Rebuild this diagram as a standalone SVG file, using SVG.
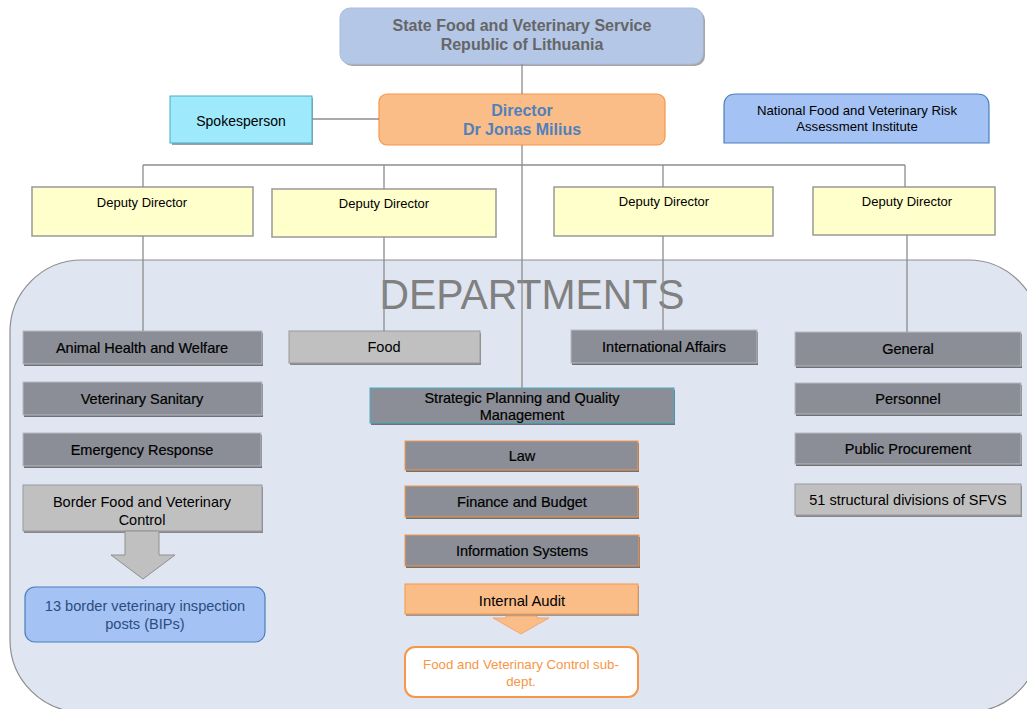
<svg xmlns="http://www.w3.org/2000/svg" width="1027" height="709" viewBox="0 0 1027 709">
<defs>
<style>
text{font-family:"Liberation Sans",Arial,sans-serif;text-anchor:middle}
.dept rect.b{fill:#8b8e96;stroke:#b8bbc0;stroke-width:1}
.dept rect.s{fill:#6f7176}
.dept text{font-size:14.5px;fill:#000;stroke:#000;stroke-width:0.2}
.light rect.b{fill:#c0c0c0;stroke:#9a9a9a;stroke-width:1}
.light rect.s{fill:#8a8a8a}
.light text{font-size:14.5px;fill:#000}
.dep rect{fill:#ffffcc;stroke:#999999;stroke-width:1.5}
.dep text{font-size:13px;fill:#000}
.conn line{stroke:#8c8c8c;stroke-width:1.3}
</style>
</defs>
<rect width="1027" height="709" fill="#ffffff"/>
<g id="departments-area">
<rect x="10" y="260" width="1030" height="452" rx="72" ry="72" fill="#dfe5f1" stroke="#8e8e8e" stroke-width="1.2"/>
<text x="532" y="309" font-size="43" fill="#808080" textLength="305" lengthAdjust="spacingAndGlyphs">DEPARTMENTS</text>
</g>
<g id="n-sfvs">
<rect x="342" y="10" width="363" height="56" rx="10" fill="#a6a6a6"/>
<rect x="340" y="8" width="363" height="56" rx="10" fill="#b4c7e7" stroke="#a9bde0" stroke-width="1"/>
<text x="522" y="31" font-size="16" font-weight="bold" fill="#666666">State Food and Veterinary Service</text>
<text x="522" y="50" font-size="16" font-weight="bold" fill="#666666">Republic of Lithuania</text>
</g>
<g id="n-spokesperson">
<rect x="172" y="98" width="141" height="47" fill="#a0a0a0"/>
<rect x="170" y="96" width="142" height="47" fill="#9eeafc" stroke="#4bacc6" stroke-width="1"/>
<text x="241" y="126" font-size="14" fill="#000">Spokesperson</text>
</g>
<g id="n-director">
<rect x="379" y="94" width="286" height="51" rx="8" fill="#fbbd88" stroke="#f79646" stroke-width="1.2"/>
<text x="522" y="116" font-size="16" font-weight="bold" fill="#4f81bd">Director</text>
<text x="522" y="135" font-size="16" font-weight="bold" fill="#4f81bd">Dr Jonas Milius</text>
</g>
<g id="n-institute">
<path d="M724,143 L724,106 Q724,94 736,94 L977,94 Q989,94 989,106 L989,143 Z" fill="#a4c2f4" stroke="#4a7ebb" stroke-width="1.2"/>
<text x="857" y="115" font-size="13.2" fill="#000">National Food and Veterinary Risk</text>
<text x="857" y="131" font-size="13.2" fill="#000">Assessment Institute</text>
</g>
<g id="n-dep1" class="dep"><rect x="32" y="187" width="221" height="49"/><text x="142" y="207">Deputy Director</text></g>
<g id="n-dep2" class="dep"><rect x="272" y="189" width="224" height="48"/><text x="384" y="208">Deputy Director</text></g>
<g id="n-dep3" class="dep"><rect x="554" y="187" width="219" height="49"/><text x="664" y="206">Deputy Director</text></g>
<g id="n-dep4" class="dep"><rect x="813" y="187" width="182" height="48"/><text x="907" y="206">Deputy Director</text></g>

<g id="n-animal" class="dept"><rect class="s" x="24" y="333" width="239" height="33"/><rect class="b" x="23" y="331" width="239" height="33"/><text x="142" y="353">Animal Health and Welfare</text></g>
<g id="n-vetsan" class="dept"><rect class="s" x="24" y="384" width="239" height="33"/><rect class="b" x="23" y="382" width="239" height="33"/><text x="142" y="404">Veterinary Sanitary</text></g>
<g id="n-emerg" class="dept"><rect class="s" x="24" y="435" width="238" height="33"/><rect class="b" x="23" y="433" width="238" height="33"/><text x="142" y="455">Emergency Response</text></g>
<g id="n-border" class="light"><rect class="s" x="24" y="487" width="239" height="46"/><rect class="b" x="23" y="485" width="239" height="46"/><text x="142" y="507">Border Food and Veterinary</text><text x="142" y="525">Control</text></g>
<g id="n-border-arrow"><polygon points="125,531 159,531 159,555 175,555 143,579 111,555 125,555" fill="#c0c0c0" stroke="#909090" stroke-width="1"/></g>
<g id="n-bips">
<rect x="25" y="587" width="240" height="55" rx="10" fill="#a4c2f4" stroke="#4a7ebb" stroke-width="1.2"/>
<text x="145" y="611" font-size="14.6" fill="#2b4d7e">13 border veterinary inspection</text>
<text x="145" y="629" font-size="14.6" fill="#2b4d7e">posts (BIPs)</text>
</g>

<g id="n-food" class="light"><rect class="s" x="290" y="333" width="191" height="32"/><rect class="b" x="289" y="331" width="191" height="32"/><text x="384" y="352">Food</text></g>
<g id="n-intl" class="dept"><rect class="s" x="572" y="332" width="186" height="33"/><rect class="b" x="571" y="330" width="186" height="33"/><text x="664" y="352">International Affairs</text></g>
<g id="n-strategic" class="dept"><rect class="s" x="371" y="390" width="304" height="35"/><rect class="b" x="370" y="388" width="304" height="35" style="stroke:#4bacc6"/><text x="522" y="403">Strategic Planning and Quality</text><text x="522" y="420">Management</text></g>
<g id="n-law" class="dept"><rect class="s" x="406" y="443" width="233" height="29"/><rect class="b" x="405" y="441" width="233" height="29" style="stroke:#f79646"/><text x="522" y="461">Law</text></g>
<g id="n-finance" class="dept"><rect class="s" x="406" y="488" width="233" height="31"/><rect class="b" x="405" y="486" width="233" height="31" style="stroke:#f79646"/><text x="522" y="507">Finance and Budget</text></g>
<g id="n-infosys" class="dept"><rect class="s" x="406" y="537" width="234" height="31"/><rect class="b" x="405" y="535" width="234" height="31" style="stroke:#f79646"/><text x="522" y="556">Information Systems</text></g>
<g id="n-audit">
<rect x="406" y="586" width="233" height="30" fill="#9a9a9a"/>
<rect x="405" y="584" width="233" height="30" fill="#fbbd88" stroke="#f79646" stroke-width="1"/>
<text x="522" y="606" font-size="14.8" fill="#000">Internal Audit</text>
</g>
<g id="n-audit-arrow"><polygon points="506,616 537,616 537,618 549,618 521,634 493,618 506,618" fill="#fbbd88" stroke="#f0a060" stroke-width="0.8"/></g>
<g id="n-fvc">
<rect x="405" y="647" width="233" height="50" rx="10" fill="#ffffff" stroke="#f79646" stroke-width="2"/>
<text x="521" y="669" font-size="13.3" fill="#f79646">Food and Veterinary Control sub-</text>
<text x="521" y="686" font-size="13.3" fill="#f79646">dept.</text>
</g>

<g id="n-general" class="dept"><rect class="s" x="796" y="334" width="226" height="34"/><rect class="b" x="795" y="332" width="226" height="34"/><text x="908" y="354">General</text></g>
<g id="n-personnel" class="dept"><rect class="s" x="796" y="385" width="226" height="31"/><rect class="b" x="795" y="383" width="226" height="31"/><text x="908" y="404">Personnel</text></g>
<g id="n-procure" class="dept"><rect class="s" x="796" y="435" width="226" height="31"/><rect class="b" x="795" y="433" width="226" height="31"/><text x="908" y="454">Public Procurement</text></g>
<g id="n-51" class="light"><rect class="s" x="796" y="486" width="226" height="31"/><rect class="b" x="795" y="484" width="226" height="31"/><text x="908" y="505">51 structural divisions of SFVS</text></g>

<g id="connectors" class="conn">
<line x1="522" y1="64" x2="522" y2="94"/>
<line x1="522" y1="145" x2="522" y2="388"/>
<line x1="312" y1="119" x2="379" y2="119"/>
<line x1="143" y1="165" x2="905" y2="165"/>
<line x1="143" y1="165" x2="143" y2="187"/>
<line x1="384" y1="165" x2="384" y2="189"/>
<line x1="663" y1="165" x2="663" y2="187"/>
<line x1="905" y1="165" x2="905" y2="187"/>
<line x1="143" y1="236" x2="143" y2="331"/>
<line x1="384" y1="237" x2="384" y2="331"/>
<line x1="663" y1="236" x2="663" y2="330"/>
<line x1="907" y1="235" x2="907" y2="332"/>
</g>
</svg>
